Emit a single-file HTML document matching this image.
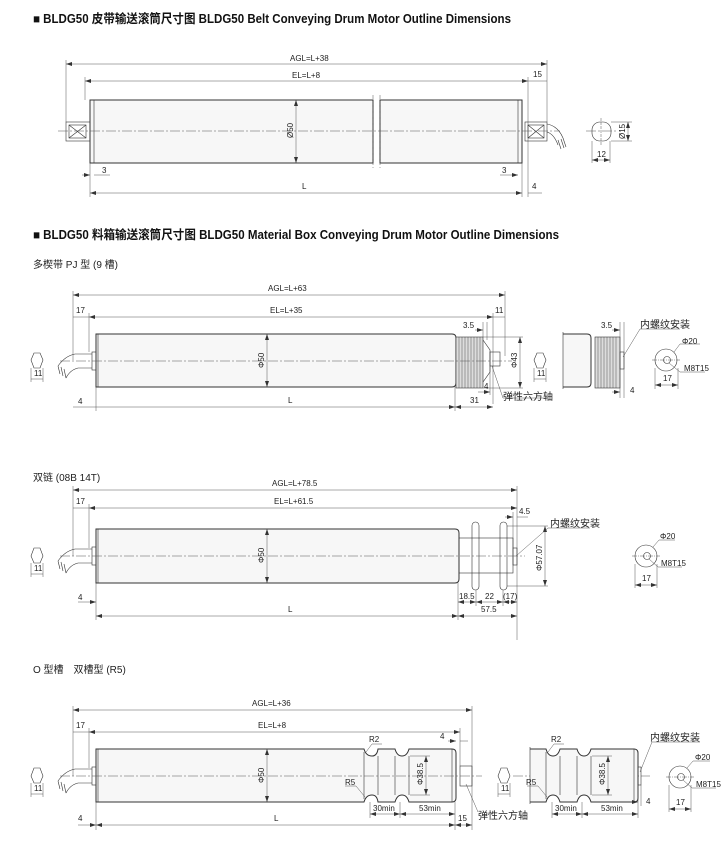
<!DOCTYPE html>
<html><head><meta charset="utf-8"><style>
html,body{margin:0;padding:0;background:#fff;}
svg{display:block}
text{font-family:"Liberation Sans Narrow","Liberation Sans","Noto Sans CJK SC",sans-serif;fill:#222;font-size:8px}
.t{font-weight:bold;font-size:12.5px;fill:#111}
.s{font-size:10px}
.l{stroke:#333;stroke-width:0.6;fill:none}
.d{stroke:#444;stroke-width:0.45;fill:none}
.b{stroke:#333;stroke-width:1;fill:#f7f7f7}
.c{stroke:#555;stroke-width:0.5;stroke-dasharray:10 2 2 2;fill:none}
.h{stroke:#333;stroke-width:0.6;fill:#ddd}
</style></head><body>
<svg width="727" height="853" viewBox="0 0 727 853" xmlns="http://www.w3.org/2000/svg">
<defs>
<marker id="a" viewBox="0 0 6 4" refX="6" refY="2" markerWidth="6" markerHeight="4" orient="auto-start-reverse" markerUnits="userSpaceOnUse"><path d="M0,0L6,2L0,4z" fill="#333"/></marker>
<pattern id="hp" width="3" height="3" patternUnits="userSpaceOnUse" patternTransform="rotate(45)"><rect width="3" height="3" fill="#ddd"/><line x1="0" y1="0" x2="0" y2="3" stroke="#777" stroke-width="0.8"/></pattern>
</defs>

<!-- ===== Section 1 ===== -->
<text class="t" x="33" y="23" textLength="478" lengthAdjust="spacingAndGlyphs">■ BLDG50 皮带输送滚筒尺寸图 BLDG50 Belt Conveying Drum Motor Outline Dimensions</text>
<g>
<line class="d" x1="66" y1="64" x2="547" y2="64" marker-start="url(#a)" marker-end="url(#a)"/>
<text x="290" y="61">AGL=L+38</text>
<line class="d" x1="85" y1="81" x2="528" y2="81" marker-start="url(#a)" marker-end="url(#a)"/>
<text x="292" y="78">EL=L+8</text>
<line class="d" x1="528" y1="81" x2="547" y2="81"/>
<text x="533" y="77">15</text>
<line class="d" x1="66" y1="60" x2="66" y2="122"/>
<line class="d" x1="547" y1="60" x2="547" y2="122"/>
<line class="d" x1="85" y1="77" x2="85" y2="100"/>
<line class="d" x1="528" y1="77" x2="528" y2="197"/>
<rect class="b" x="90" y="100" width="283" height="63"/>
<rect class="b" x="380" y="100" width="142" height="63"/>
<line class="l" x1="94" y1="100" x2="94" y2="163"/>
<line class="l" x1="518" y1="100" x2="518" y2="163"/>
<line class="d" x1="373" y1="95" x2="373" y2="168" stroke-dasharray="4 2"/>
<line class="d" x1="380" y1="95" x2="380" y2="168" stroke-dasharray="4 2"/>
<line class="d" x1="296" y1="100" x2="296" y2="163" marker-start="url(#a)" marker-end="url(#a)"/>
<text transform="translate(293,138) rotate(-90)">Ø50</text>
<rect class="l" x="66" y="122" width="24" height="19" fill="#fff"/>
<path class="l" d="M69,125L86,138M86,125L69,138"/><rect class="l" x="69" y="125" width="17" height="13"/>
<rect class="l" x="525" y="122" width="22" height="19" fill="#fff"/>
<path class="l" d="M528,125L544,138M544,125L528,138"/><rect class="l" x="528" y="125" width="16" height="13"/>
<path class="l" d="M547,124 Q558,126 563,138 M547,132 Q554,134 558,145 M558,140l3,9 M561,139l3,9 M563,138l3,9"/>
<line class="c" x1="58" y1="131" x2="560" y2="131"/>
<rect class="l" x="592" y="122" width="19" height="19" rx="8"/>
<line class="c" x1="586" y1="131" x2="616" y2="131"/>
<line class="d" x1="601" y1="118" x2="601" y2="145" stroke-dasharray="3 1"/>
<line class="d" x1="611" y1="122" x2="632" y2="122"/><line class="d" x1="611" y1="141" x2="632" y2="141"/>
<line class="d" x1="628" y1="122" x2="628" y2="141" marker-start="url(#a)" marker-end="url(#a)"/>
<text transform="translate(625,139) rotate(-90)">Ø15</text>
<line class="d" x1="592" y1="141" x2="592" y2="163"/><line class="d" x1="610" y1="141" x2="610" y2="163"/>
<line class="d" x1="592" y1="160" x2="610" y2="160" marker-start="url(#a)" marker-end="url(#a)"/>
<text x="597" y="157">12</text>
<line class="d" x1="90" y1="163" x2="90" y2="197"/><line class="d" x1="522" y1="163" x2="522" y2="197"/>
<line class="d" x1="82" y1="175" x2="90" y2="175" marker-end="url(#a)"/><line class="d" x1="94" y1="175" x2="110" y2="175"/>
<text x="102" y="173">3</text>
<line class="d" x1="500" y1="175" x2="518" y2="175" marker-end="url(#a)"/>
<text x="502" y="173">3</text>
<line class="d" x1="90" y1="193" x2="522" y2="193" marker-start="url(#a)" marker-end="url(#a)"/>
<text x="302" y="189">L</text>
<line class="d" x1="528" y1="193" x2="542" y2="193"/>
<text x="532" y="189">4</text>
</g>

<!-- ===== Section 2 ===== -->
<text class="t" x="33" y="239" textLength="526" lengthAdjust="spacingAndGlyphs">■ BLDG50 料箱输送滚筒尺寸图 BLDG50 Material Box Conveying Drum Motor Outline Dimensions</text>
<text class="s" x="33" y="268">多楔带 PJ 型 (9 槽)</text>
<g>
<line class="d" x1="73" y1="295" x2="505" y2="295" marker-start="url(#a)" marker-end="url(#a)"/>
<text x="268" y="291">AGL=L+63</text>
<line class="d" x1="89" y1="317" x2="493" y2="317" marker-start="url(#a)" marker-end="url(#a)"/>
<line class="d" x1="73" y1="317" x2="89" y2="317"/>
<text x="270" y="313">EL=L+35</text><text x="76" y="313">17</text><text x="495" y="313">11</text>
<line class="d" x1="493" y1="317" x2="505" y2="317"/>
<line class="d" x1="73" y1="291" x2="73" y2="360"/><line class="d" x1="89" y1="313" x2="89" y2="352"/>
<line class="d" x1="505" y1="291" x2="505" y2="356"/><line class="d" x1="493" y1="313" x2="493" y2="404"/>
<path class="b" d="M96,334H452Q456,334 456,338V383Q456,387 452,387H96Z"/>
<line class="l" x1="98" y1="334" x2="98" y2="387"/>
<rect class="l" x="92" y="352" width="4" height="18"/>
<path class="l" d="M92,354H75Q65,356 58,366M92,368H78Q70,370 66,378M58,366l2,8M61,367l2,9M64,369l2,9"/>
<rect class="h" x="456" y="337" width="27" height="51"/>
<path class="d" d="M459,337V388M462,337V388M465,337V388M468,337V388M471,337V388M474,337V388M477,337V388M480,337V388"/>
<path class="l" d="M483,340L490,350V372L483,382" />
<rect class="l" x="490" y="352" width="10" height="14" fill="#ddd"/>
<line class="d" x1="267" y1="334" x2="267" y2="387" marker-start="url(#a)" marker-end="url(#a)"/>
<text transform="translate(264,368) rotate(-90)">Φ50</text>
<line class="d" x1="483" y1="337" x2="523" y2="337"/><line class="d" x1="483" y1="388" x2="523" y2="388"/>
<line class="d" x1="520" y1="337" x2="520" y2="388" marker-start="url(#a)" marker-end="url(#a)"/>
<text transform="translate(517,368) rotate(-90)">Φ43</text>
<line class="d" x1="483" y1="322" x2="483" y2="337"/><line class="d" x1="487" y1="322" x2="487" y2="340"/>
<line class="d" x1="475" y1="330" x2="483" y2="330" marker-end="url(#a)"/>
<text x="463" y="328">3.5</text>
<line class="c" x1="60" y1="361" x2="512" y2="361"/>
<path class="l" d="M34,353L40,353L43,360L40,368L34,368L31,360Z" fill="url(#hp)"/>
<line class="d" x1="31" y1="368" x2="31" y2="382"/><line class="d" x1="43" y1="368" x2="43" y2="382"/>
<line class="d" x1="31" y1="379" x2="43" y2="379"/><text x="34" y="376">11</text>
<line class="d" x1="96" y1="387" x2="96" y2="411"/><line class="d" x1="455" y1="387" x2="455" y2="411"/>
<line class="d" x1="73" y1="407" x2="455" y2="407" marker-end="url(#a)"/>
<line class="d" x1="96" y1="407" x2="96" y2="407" />
<text x="78" y="404">4</text><text x="288" y="403">L</text>
<line class="d" x1="455" y1="407" x2="493" y2="407" marker-start="url(#a)" marker-end="url(#a)"/>
<text x="470" y="403">31</text>
<line class="d" x1="490" y1="366" x2="490" y2="395"/>
<line class="d" x1="478" y1="392" x2="490" y2="392" marker-end="url(#a)"/><text x="484" y="389">4</text>
<path class="d" d="M492,366L503,398H546"/>
<text class="s" x="503" y="400">弹性六方轴</text>
<path class="l" d="M537,353L543,353L546,360L543,368L537,368L534,360Z" fill="url(#hp)"/>
<line class="d" x1="534" y1="368" x2="534" y2="382"/><line class="d" x1="546" y1="368" x2="546" y2="382"/>
<line class="d" x1="534" y1="379" x2="546" y2="379"/><text x="537" y="376">11</text>
<path class="b" d="M563,334H587Q591,334 591,338V383Q591,387 587,387H563"/>
<line class="l" x1="563" y1="332" x2="563" y2="389"/>
<rect class="h" x="595" y="337" width="25" height="51"/>
<path class="d" d="M598,337V388M601,337V388M604,337V388M607,337V388M610,337V388M613,337V388M616,337V388"/>
<rect class="l" x="620" y="352" width="4" height="17" fill="#ddd"/>
<line class="d" x1="620" y1="322" x2="620" y2="398"/><line class="d" x1="624" y1="322" x2="624" y2="398"/>
<line class="d" x1="612" y1="330" x2="620" y2="330" marker-end="url(#a)"/><text x="601" y="328">3.5</text>
<line class="d" x1="612" y1="392" x2="620" y2="392" marker-end="url(#a)"/><text x="630" y="393">4</text>
<path class="d" d="M623,357L640,329H680"/><text class="s" x="640" y="328">内螺纹安装</text>
<circle class="l" cx="666" cy="360" r="11"/><circle class="l" cx="667" cy="360" r="3.5"/>
<line class="d" x1="652" y1="360" x2="680" y2="360" stroke-dasharray="5 1 1 1"/>
<path class="d" d="M674,352L680,344H700"/><text x="682" y="344">Φ20</text>
<path class="d" d="M669,363L680,372H705"/><text x="684" y="371">M8T15</text>
<line class="d" x1="655" y1="368" x2="655" y2="389"/><line class="d" x1="678" y1="368" x2="678" y2="389"/>
<line class="d" x1="655" y1="385" x2="678" y2="385" marker-start="url(#a)" marker-end="url(#a)"/><text x="663" y="381">17</text>
</g>

<!-- ===== Section 3 ===== -->
<text class="s" x="33" y="481">双链 (08B 14T)</text>
<g>
<line class="d" x1="73" y1="490" x2="517" y2="490" marker-start="url(#a)" marker-end="url(#a)"/>
<text x="272" y="486">AGL=L+78.5</text>
<line class="d" x1="89" y1="508" x2="517" y2="508" marker-start="url(#a)" marker-end="url(#a)"/>
<line class="d" x1="73" y1="508" x2="89" y2="508"/>
<text x="274" y="504">EL=L+61.5</text><text x="76" y="504">17</text>
<line class="d" x1="73" y1="486" x2="73" y2="556"/><line class="d" x1="89" y1="504" x2="89" y2="548"/>
<line class="d" x1="517" y1="486" x2="517" y2="640"/><line class="d" x1="513" y1="512" x2="513" y2="548"/>
<line class="d" x1="505" y1="517" x2="513" y2="517" marker-end="url(#a)"/><line class="d" x1="517" y1="517" x2="528" y2="517"/>
<text x="519" y="514">4.5</text>
<path class="b" d="M96,529H455Q459,529 459,533V579Q459,583 455,583H96Z"/>
<line class="l" x1="98" y1="529" x2="98" y2="583"/>
<rect class="l" x="92" y="547" width="4" height="18"/>
<path class="l" d="M92,549H75Q65,551 58,561M92,563H78Q70,565 66,573M58,561l2,8M61,562l2,9M64,564l2,9"/>
<rect class="l" x="459" y="538" width="54" height="35" fill="#f7f7f7"/>
<rect class="l" x="472" y="522" width="7" height="68" rx="3.5" fill="#f7f7f7"/>
<rect class="l" x="500" y="522" width="7" height="68" rx="3.5" fill="#f7f7f7"/>
<rect class="l" x="513" y="548" width="4" height="17" fill="#ddd"/>
<line class="d" x1="267" y1="529" x2="267" y2="583" marker-start="url(#a)" marker-end="url(#a)"/>
<text transform="translate(264,563) rotate(-90)">Φ50</text>
<line class="d" x1="507" y1="526" x2="548" y2="526"/><line class="d" x1="507" y1="586" x2="548" y2="586"/>
<line class="d" x1="545" y1="526" x2="545" y2="586" marker-start="url(#a)" marker-end="url(#a)"/>
<text transform="translate(542,571) rotate(-90)">Φ57.07</text>
<path class="d" d="M516,556L548,528H590"/><text class="s" x="550" y="527">内螺纹安装</text>
<line class="c" x1="60" y1="556" x2="525" y2="556"/>
<path class="l" d="M34,548L40,548L43,556L40,563L34,563L31,556Z" fill="url(#hp)"/>
<line class="d" x1="31" y1="563" x2="31" y2="577"/><line class="d" x1="43" y1="563" x2="43" y2="577"/>
<line class="d" x1="31" y1="574" x2="43" y2="574"/><text x="34" y="571">11</text>
<line class="d" x1="96" y1="583" x2="96" y2="620"/><line class="d" x1="458" y1="583" x2="458" y2="620"/>
<line class="d" x1="476" y1="590" x2="476" y2="606"/><line class="d" x1="503" y1="590" x2="503" y2="606"/>
<line class="d" x1="78" y1="602" x2="96" y2="602" marker-end="url(#a)"/><text x="78" y="600">4</text>
<line class="d" x1="458" y1="602" x2="476" y2="602" marker-start="url(#a)" marker-end="url(#a)"/><text x="459" y="599">18.5</text>
<line class="d" x1="476" y1="602" x2="503" y2="602" marker-start="url(#a)" marker-end="url(#a)"/><text x="485" y="599">22</text>
<line class="d" x1="503" y1="602" x2="517" y2="602" marker-start="url(#a)" marker-end="url(#a)"/><text x="503" y="599">(17)</text>
<line class="d" x1="96" y1="616" x2="458" y2="616" marker-start="url(#a)" marker-end="url(#a)"/><text x="288" y="612">L</text>
<line class="d" x1="458" y1="616" x2="517" y2="616" marker-start="url(#a)" marker-end="url(#a)"/><text x="481" y="612">57.5</text>
<circle class="l" cx="646" cy="556" r="11"/><circle class="l" cx="647" cy="556" r="3.5"/>
<line class="d" x1="632" y1="556" x2="660" y2="556" stroke-dasharray="5 1 1 1"/>
<path class="d" d="M653,547L659,540H675"/><text x="660" y="539">Φ20</text>
<path class="d" d="M649,559L658,567H682"/><text x="661" y="566">M8T15</text>
<line class="d" x1="635" y1="564" x2="635" y2="588"/><line class="d" x1="657" y1="564" x2="657" y2="588"/>
<line class="d" x1="635" y1="585" x2="657" y2="585" marker-start="url(#a)" marker-end="url(#a)"/><text x="642" y="581">17</text>
</g>

<!-- ===== Section 4 ===== -->
<text class="s" x="33" y="673">O 型槽　双槽型 (R5)</text>
<g>
<line class="d" x1="73" y1="710" x2="472" y2="710" marker-start="url(#a)" marker-end="url(#a)"/>
<text x="252" y="706">AGL=L+36</text>
<line class="d" x1="89" y1="732" x2="460" y2="732" marker-start="url(#a)" marker-end="url(#a)"/>
<line class="d" x1="73" y1="732" x2="89" y2="732"/>
<text x="258" y="728">EL=L+8</text><text x="76" y="728">17</text>
<line class="d" x1="73" y1="706" x2="73" y2="776"/><line class="d" x1="89" y1="728" x2="89" y2="768"/>
<line class="d" x1="472" y1="706" x2="472" y2="830"/><line class="d" x1="460" y1="728" x2="460" y2="766"/>
<line class="d" x1="448" y1="741" x2="456" y2="741" marker-end="url(#a)"/><line class="d" x1="460" y1="741" x2="468" y2="741"/>
<text x="440" y="739">4</text>
<path class="b" d="M96,749H364Q366,756 372,756Q377,756 378,749H395Q397,756 402,756Q407,756 409,749H452Q456,749 456,753V798Q456,802 452,802H409Q407,795 402,795Q397,795 395,802H378Q377,795 372,795Q366,795 364,802H96Z"/>
<line class="l" x1="98" y1="749" x2="98" y2="802"/>
<line class="l" x1="378" y1="756" x2="378" y2="795"/><line class="l" x1="395" y1="756" x2="395" y2="795"/><line class="l" x1="409" y1="756" x2="409" y2="795"/><line class="l" x1="364" y1="752" x2="364" y2="799"/><line class="l" x1="452" y1="749" x2="452" y2="802"/>
<rect class="l" x="92" y="767" width="4" height="18"/>
<path class="l" d="M92,769H75Q65,771 58,781M92,783H78Q70,785 66,793M58,781l2,8M61,782l2,9M64,784l2,9"/>
<rect class="l" x="460" y="766" width="12" height="20" fill="#ddd"/>
<line class="d" x1="267" y1="749" x2="267" y2="802" marker-start="url(#a)" marker-end="url(#a)"/>
<text transform="translate(264,783) rotate(-90)">Φ50</text>
<line class="d" x1="410" y1="756" x2="430" y2="756"/><line class="d" x1="410" y1="795" x2="430" y2="795"/>
<line class="d" x1="426" y1="756" x2="426" y2="795" marker-start="url(#a)" marker-end="url(#a)"/>
<text transform="translate(423,785) rotate(-90)">Φ38.5</text>
<path class="d" d="M366,752L372,744H382"/><text x="369" y="742">R2</text>
<path class="d" d="M365,797L356,786H345"/><text x="345" y="785">R5</text>
<line class="c" x1="60" y1="776" x2="482" y2="776"/>
<path class="l" d="M34,768L40,768L43,776L40,783L34,783L31,776Z" fill="url(#hp)"/>
<line class="d" x1="31" y1="783" x2="31" y2="797"/><line class="d" x1="43" y1="783" x2="43" y2="797"/>
<line class="d" x1="31" y1="794" x2="43" y2="794"/><text x="34" y="791">11</text>
<line class="d" x1="370" y1="802" x2="370" y2="818"/><line class="d" x1="400" y1="802" x2="400" y2="818"/><line class="d" x1="455" y1="802" x2="455" y2="830"/>
<line class="d" x1="370" y1="814" x2="400" y2="814" marker-start="url(#a)" marker-end="url(#a)"/><text x="373" y="811">30min</text>
<line class="d" x1="400" y1="814" x2="455" y2="814" marker-start="url(#a)" marker-end="url(#a)"/><text x="419" y="811">53min</text>
<line class="d" x1="96" y1="802" x2="96" y2="830"/>
<line class="d" x1="78" y1="825" x2="96" y2="825" marker-end="url(#a)"/><text x="78" y="821">4</text>
<line class="d" x1="96" y1="825" x2="455" y2="825" marker-start="url(#a)" marker-end="url(#a)"/><text x="274" y="821">L</text>
<line class="d" x1="455" y1="825" x2="472" y2="825" marker-start="url(#a)" marker-end="url(#a)"/><text x="458" y="821">15</text>
<path class="d" d="M466,784L478,812"/><text class="s" x="478" y="819">弹性六方轴</text>
<path class="l" d="M501,768L507,768L510,776L507,783L501,783L498,776Z" fill="url(#hp)"/>
<line class="d" x1="498" y1="783" x2="498" y2="797"/><line class="d" x1="510" y1="783" x2="510" y2="797"/>
<line class="d" x1="498" y1="794" x2="510" y2="794"/><text x="501" y="791">11</text>
<line class="c" x1="513" y1="776" x2="650" y2="776"/>
<path class="b" d="M530,749H546Q548,756 553,756Q558,756 560,749H577Q579,756 584,756Q589,756 591,749H634Q638,749 638,753V798Q638,802 634,802H591Q589,795 584,795Q579,795 577,802H560Q558,795 553,795Q548,795 546,802H530"/>
<line class="l" x1="530" y1="747" x2="530" y2="804"/>
<line class="l" x1="560" y1="756" x2="560" y2="795"/><line class="l" x1="577" y1="756" x2="577" y2="795"/><line class="l" x1="591" y1="756" x2="591" y2="795"/><line class="l" x1="546" y1="752" x2="546" y2="799"/><line class="l" x1="634" y1="749" x2="634" y2="802"/>
<rect class="l" x="638" y="767" width="3" height="18" fill="#ddd"/>
<line class="d" x1="592" y1="756" x2="612" y2="756"/><line class="d" x1="592" y1="795" x2="612" y2="795"/>
<line class="d" x1="608" y1="756" x2="608" y2="795" marker-start="url(#a)" marker-end="url(#a)"/>
<text transform="translate(605,785) rotate(-90)">Φ38.5</text>
<path class="d" d="M548,752L554,744H564"/><text x="551" y="742">R2</text>
<path class="d" d="M547,797L538,786H527"/><text x="526" y="785">R5</text>
<line class="d" x1="552" y1="802" x2="552" y2="818"/><line class="d" x1="582" y1="802" x2="582" y2="818"/><line class="d" x1="638" y1="785" x2="638" y2="818"/><line class="d" x1="641" y1="785" x2="641" y2="806"/>
<line class="d" x1="552" y1="814" x2="582" y2="814" marker-start="url(#a)" marker-end="url(#a)"/><text x="555" y="811">30min</text>
<line class="d" x1="582" y1="814" x2="638" y2="814" marker-start="url(#a)" marker-end="url(#a)"/><text x="601" y="811">53min</text>
<line class="d" x1="630" y1="802" x2="638" y2="802" marker-end="url(#a)"/><text x="646" y="804">4</text>
<path class="d" d="M640,772L652,742H700"/><text class="s" x="650" y="741">内螺纹安装</text>
<circle class="l" cx="680" cy="777" r="11"/><circle class="l" cx="681" cy="777" r="3.5"/>
<line class="d" x1="666" y1="777" x2="694" y2="777" stroke-dasharray="5 1 1 1"/>
<path class="d" d="M687,768L693,761H710"/><text x="695" y="760">Φ20</text>
<path class="d" d="M683,780L692,788H716"/><text x="696" y="787">M8T15</text>
<line class="d" x1="669" y1="785" x2="669" y2="812"/><line class="d" x1="691" y1="785" x2="691" y2="812"/>
<line class="d" x1="669" y1="809" x2="691" y2="809" marker-start="url(#a)" marker-end="url(#a)"/><text x="676" y="805">17</text>
</g>
</svg>
</body></html>
